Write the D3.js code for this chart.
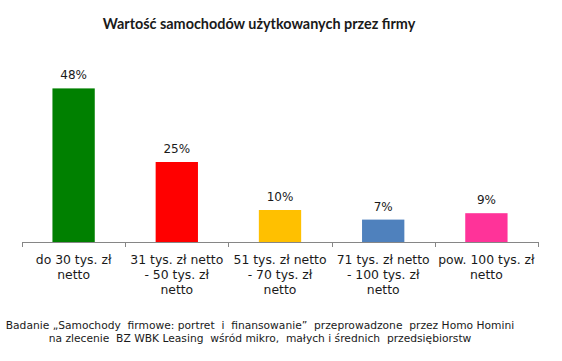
<!DOCTYPE html>
<html><head><meta charset="utf-8">
<script src="https://cdn.jsdelivr.net/npm/d3@7"></script>
<style>body{margin:0;background:#fff}svg{display:block}</style>
</head><body>
<script>
const title = "Wartość samochodów użytkowanych przez firmy";
const categories = [
  ["do 30 tys. zł", "netto"],
  ["31 tys. zł netto", "- 50 tys. zł", "netto"],
  ["51 tys. zł netto", "- 70 tys. zł", "netto"],
  ["71 tys. zł netto", "- 100 tys. zł", "netto"],
  ["pow. 100 tys. zł", "netto"]
];
const values = [48, 25, 10, 7, 9];
const colors = ["#008000", "#ff0000", "#ffc000", "#4f81bd", "#ff3399"];
const footer = [
  "Badanie „Samochody  firmowe: portret  i  finansowanie”  przeprowadzone  przez Homo Homini",
  "na zlecenie  BZ WBK Leasing  wśród mikro,  małych i średnich  przedsiębiorstw"
];

const W = 562, H = 361;
const svg = d3.select("body").append("svg").attr("width", W).attr("height", H);
const ids = categories.map((d, i) => i);
const x = d3.scaleBand().domain(ids).range([22, 538]).paddingInner(0.59).paddingOuter(0.295);
const y = d3.scaleLinear().domain([0, 50]).range([242, 82]);

svg.append("text").attr("x", 259).attr("y", 29).attr("text-anchor", "middle")
  .style("font-family", "Lato, 'Open Sans', sans-serif").style("font-weight", "bold")
  .style("font-size", "14.4px").attr("fill", "#1a1a1a").text(title);

svg.selectAll("rect.bar").data(values).join("rect").attr("class", "bar")
  .attr("x", (d, i) => x(i)).attr("width", x.bandwidth())
  .attr("y", d => y(d)).attr("height", d => y(0) - y(d))
  .attr("fill", (d, i) => colors[i]);

svg.selectAll("text.val").data(values).join("text").attr("class", "val")
  .attr("x", (d, i) => x(i) + x.bandwidth() / 2).attr("y", d => y(d) - 9)
  .attr("text-anchor", "middle")
  .style("font-family", "'DejaVu Sans', sans-serif")
  .style("font-size", "12px").attr("fill", "#1a1a1a").text(d => d + "%");

// axis
const tickPos = d3.range(categories.length + 1).map(i => 22 + i * (516 / categories.length));
const ax = svg.append("g");
ax.append("line").attr("x1", 22).attr("x2", 538).attr("y1", 242.5).attr("y2", 242.5)
  .attr("stroke", "#868686").attr("stroke-width", 1);
ax.selectAll("line.tk").data(tickPos).join("line").attr("class", "tk")
  .attr("x1", d => Math.round(d) + 0.5).attr("x2", d => Math.round(d) + 0.5)
  .attr("y1", 242).attr("y2", 247).attr("stroke", "#868686");

const lab = svg.selectAll("text.cat").data(categories).join("text").attr("class", "cat")
  .attr("text-anchor", "middle")
  .style("font-family", "'DejaVu Sans', sans-serif")
  .style("font-size", "12.4px").attr("fill", "#1a1a1a");
lab.each(function(d, i) {
  const t = d3.select(this);
  d.forEach((s, j) => {
    t.append("tspan").attr("x", x(i) + x.bandwidth() / 2).attr("y", 263.5 + j * 15).text(s);
  });
});

svg.selectAll("text.foot").data(footer).join("text").attr("class", "foot")
  .attr("x", 260).attr("y", (d, i) => 329 + i * 13).attr("text-anchor", "middle")
  .style("font-family", "'DejaVu Sans', sans-serif")
  .style("font-size", "10.7px").style("white-space", "pre").attr("fill", "#1a1a1a")
  .text(d => d);
</script>
</body></html>
